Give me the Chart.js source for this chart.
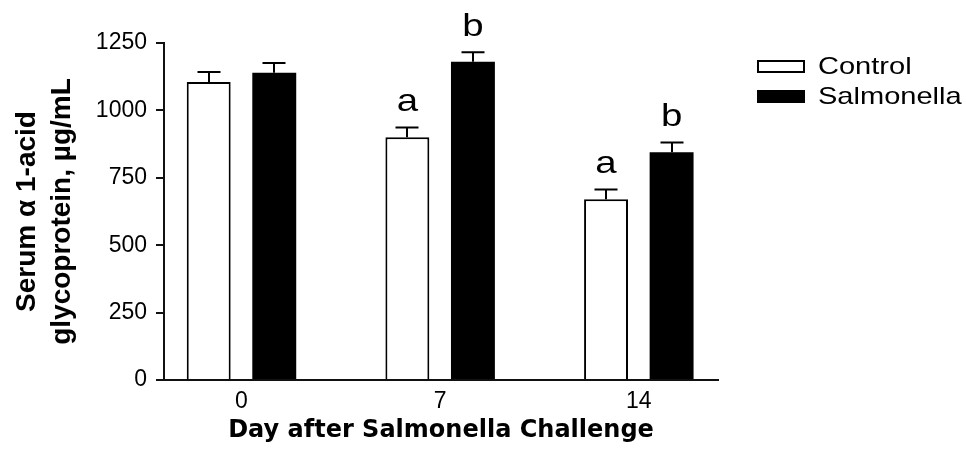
<!DOCTYPE html>
<html>
<head>
<meta charset="utf-8">
<title>Serum α1-acid glycoprotein after Salmonella challenge</title>
<script src="https://cdn.jsdelivr.net/npm/chart.js@4/dist/chart.umd.min.js"></script>
<style>
  html, body { margin: 0; padding: 0; background: #fff; }
  #chart { display: block; }
</style>
</head>
<body>
<canvas id="chart" width="966" height="458"></canvas>
<script>
// Days after challenge (x positions) and group means with SEM
const days = [0, 7, 14];
const controlMeans = [1105, 900, 670];
const controlSEM = [37, 37, 37];
const salmonellaMeans = [1140, 1180, 845];
const salmonellaSEM = [36, 36, 36];
// Significance letters above each bar
const controlLetters = ['', 'a', 'a'];
const salmonellaLetters = ['', 'b', 'b'];
// Axis ticks
const yTicks = [0, 250, 500, 750, 1000, 1250];
const xTickLabels = ['0', '7', '14'];

const SANS = "'Liberation Sans', Arial, Helvetica, sans-serif";
const WIDE = "'DejaVu Sans', Verdana, sans-serif";
const INK = '#000';
const AXIS = '#111';

// Upward SEM whiskers and the significance letters over them
const errorBarPlugin = {
  id: 'errorBars',
  afterDatasetsDraw(chart) {
    const { ctx } = chart;
    const yScale = chart.scales.y;
    chart.data.datasets.forEach((ds, di) => {
      const meta = chart.getDatasetMeta(di);
      meta.data.forEach((bar, i) => {
        const top = yScale.getPixelForValue(ds.data[i].y + ds.errors[i]);
        const cx = Math.round(bar.x);
        ctx.save();
        ctx.strokeStyle = INK;
        ctx.lineWidth = 2;
        ctx.beginPath();
        ctx.moveTo(cx, bar.y);
        ctx.lineTo(cx, top);
        ctx.moveTo(cx - 11.5, top);
        ctx.lineTo(cx + 11.5, top);
        ctx.stroke();
        const letter = ds.letters[i];
        if (letter) {
          ctx.translate(bar.x, top - 16);
          ctx.scale(1.2, 1);
          ctx.fillStyle = INK;
          ctx.font = '32px ' + SANS;
          ctx.textAlign = 'center';
          ctx.textBaseline = 'alphabetic';
          ctx.fillText(letter, 0, 0);
        }
        ctx.restore();
      });
    });
  }
};

// Legend to the right of the plot: swatch plus series name
const sideLegendPlugin = {
  id: 'sideLegend',
  afterDraw(chart) {
    const { ctx } = chart;
    const x0 = chart.chartArea.right + 39;
    chart.data.datasets.forEach((ds, i) => {
      const y0 = 60 + i * 30;
      ctx.save();
      ctx.fillStyle = ds.backgroundColor;
      ctx.fillRect(x0, y0, 48, 13);
      if (ds.borderWidth) {
        ctx.strokeStyle = ds.borderColor;
        ctx.lineWidth = 2;
        ctx.strokeRect(x0 + 1, y0 + 1, 46, 11);
      }
      ctx.translate(x0 + 61, y0 + 7);
      ctx.scale(1.21, 1);
      ctx.fillStyle = INK;
      ctx.font = '24px ' + SANS;
      ctx.textAlign = 'left';
      ctx.textBaseline = 'middle';
      ctx.fillText(ds.label, 0, 0);
      ctx.restore();
    });
  }
};

new Chart(document.getElementById('chart'), {
  type: 'bar',
  data: {
    datasets: [
      {
        label: 'Control',
        data: days.map((d, i) => ({ x: d, y: controlMeans[i] })),
        errors: controlSEM,
        letters: controlLetters,
        backgroundColor: '#fff',
        borderColor: INK,
        borderWidth: 2,
        borderSkipped: 'start'
      },
      {
        label: 'Salmonella',
        data: days.map((d, i) => ({ x: d, y: salmonellaMeans[i] })),
        errors: salmonellaSEM,
        letters: salmonellaLetters,
        backgroundColor: INK,
        borderColor: INK,
        borderWidth: 0
      }
    ]
  },
  options: {
    responsive: false,
    animation: false,
    devicePixelRatio: 1,
    categoryPercentage: 0.66,
    barPercentage: 0.67,
    layout: { padding: { top: 43, right: 248, bottom: 0, left: 0 } },
    scales: {
      x: {
        type: 'linear',
        offset: false,
        min: -2.73,
        max: 16.79,
        afterBuildTicks(scale) { scale.ticks = days.map(v => ({ value: v })); },
        afterFit(scale) { scale.height = 78; },
        ticks: {
          autoSkip: false,
          maxRotation: 0,
          padding: 8,
          color: INK,
          font: { family: SANS, size: 23 },
          callback(value) { return xTickLabels[days.indexOf(value)]; }
        },
        grid: { display: false, drawTicks: false },
        border: { display: true, color: AXIS, width: 2 },
        title: {
          display: true,
          text: 'Day after Salmonella Challenge',
          color: INK,
          font: { family: WIDE, size: 24, weight: 'bold' },
          padding: { top: 4, bottom: 13 }
        }
      },
      y: {
        min: 0,
        max: 1250,
        afterBuildTicks(scale) { scale.ticks = yTicks.map(v => ({ value: v })); },
        afterFit(scale) { scale.width = 164; },
        ticks: {
          padding: 9,
          color: INK,
          font: { family: SANS, size: 23 },
          callback(value) { return String(value); }
        },
        grid: {
          display: true,
          drawOnChartArea: false,
          drawTicks: true,
          tickLength: 8,
          color: AXIS,
          lineWidth: 2
        },
        border: { display: true, color: AXIS, width: 2 },
        title: {
          display: true,
          text: ['Serum α 1-acid', 'glycoprotein, µg/mL'],
          color: INK,
          font: { family: SANS, size: 28, weight: 'bold', lineHeight: 1.26 },
          padding: { top: 9.6, bottom: 0 }
        }
      }
    },
    plugins: {
      legend: { display: false },
      tooltip: { enabled: false }
    }
  },
  plugins: [errorBarPlugin, sideLegendPlugin]
});
</script>
</body>
</html>
